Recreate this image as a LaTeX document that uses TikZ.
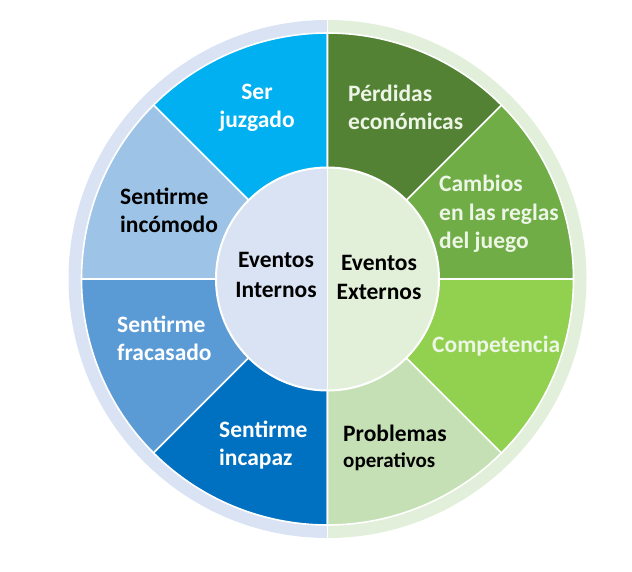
\documentclass[tikz,border=0pt]{standalone}
\usepackage{fontspec}
\setmainfont{Carlito}
\definecolor{ringblue}{HTML}{DAE3F3}
\definecolor{ringgreen}{HTML}{E2EFDA}
\definecolor{coreblue}{HTML}{DAE3F3}
\definecolor{coregreen}{HTML}{E2F0D9}
\definecolor{juzgadoblue}{HTML}{00B0F0}
\definecolor{incomodoblue}{HTML}{9DC3E6}
\definecolor{fracasadoblue}{HTML}{5B9BD5}
\definecolor{incapazblue}{HTML}{0070C0}
\definecolor{operativosgreen}{HTML}{C5E0B4}
\definecolor{competenciagreen}{HTML}{92D050}
\definecolor{cambiosgreen}{HTML}{70AD47}
\definecolor{perdidasgreen}{HTML}{548235}
\definecolor{lighttext}{HTML}{EDF6E6}

\begin{document}
\begin{tikzpicture}[
  x=1pt,
  y=1pt,
  line join=round,
  wedge/.style={draw=white,line width=1.6pt},
  label/.style={inner sep=0pt,font=\bfseries\fontsize{23.5}{28}\selectfont},
  leftlabel/.style={label,align=left,anchor=base west},
  midlabel/.style={label,align=center,anchor=base}
]
  % Match the artwork frame (image y runs downwards, so y is negative).
  \useasboundingbox (0,0) rectangle (632,-572);

  \coordinate (center) at (327.5,-279);

  % Outer ring: blue half on the left, green half on the right.
  \fill[ringblue] (center) -- ++(90:259) arc[start angle=90,end angle=270,radius=259] -- cycle;
  \fill[ringgreen] (center) -- ++(-90:259) arc[start angle=-90,end angle=90,radius=259] -- cycle;
  \draw[draw=white,line width=1.6pt] (327.5,-20) -- (327.5,-538);

  % Eight sectors of 45 degrees each.
  \foreach \a/\col in {90/juzgadoblue,135/incomodoblue,180/fracasadoblue,
    225/incapazblue,270/operativosgreen,315/competenciagreen,
    0/cambiosgreen,45/perdidasgreen} {
    \filldraw[wedge,fill=\col] (center) -- ++(\a:246)
      arc[start angle=\a,end angle=\a+45,radius=246] -- cycle;
  }

  % Inner disc split in two halves.
  \fill[coreblue] (center) -- ++(90:111.5) arc[start angle=90,end angle=270,radius=111.5] -- cycle;
  \fill[coregreen] (center) -- ++(-90:111.5) arc[start angle=-90,end angle=90,radius=111.5] -- cycle;
  \draw[draw=white,line width=2pt] (center) circle[radius=111.5];
  \draw[draw=white,line width=1.6pt] (327.5,-167.5) -- (327.5,-390.5);

  % Internal events (blue side); nodes sit on the baseline of their last line.
  \node[midlabel,text=white] (juzgado) at (257,-128) {Ser\\juzgado};
  \node[leftlabel,text=black] (incomodo) at (120,-233) {Sentirme\\incómodo};
  \node[leftlabel,text=white] (fracasado) at (117,-360) {Sentirme\\fracasado};
  \node[leftlabel,text=white] (incapaz) at (219,-465) {Sentirme\\incapaz};

  % External events (green side).
  \node[leftlabel,text=lighttext] (perdidas) at (348,-130) {Pérdidas\\económicas};
  \node[leftlabel,text=lighttext] (cambios) at (439,-248) {Cambios\\en las reglas\\del juego};
  \node[leftlabel,text=lighttext] (competencia) at (432,-352) {Competencia};
  \node[leftlabel,text=black,font=\bfseries\fontsize{23.5}{26}\selectfont] (problemas) at (343,-467)
    {Problemas\\{\fontsize{21}{26}\selectfont operativos}};

  % Centre labels.
  \node[midlabel,text=black,font=\bfseries\fontsize{23.5}{30}\selectfont] (internos) at (276,-297) {Eventos\\Internos};
  \node[midlabel,text=black,font=\bfseries\fontsize{23.5}{29}\selectfont] (externos) at (379,-299) {Eventos\\Externos};
\end{tikzpicture}
\end{document}
